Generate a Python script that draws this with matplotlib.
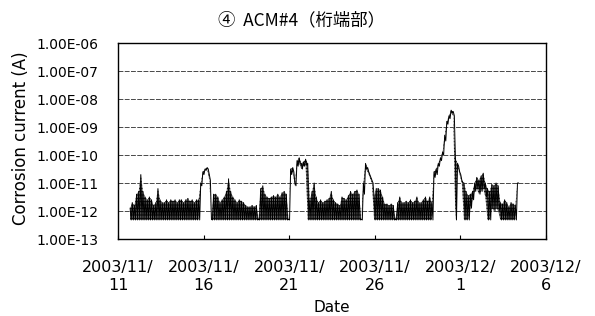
import pandas as pd
import numpy as np
from matplotlib import pyplot as plt
import matplotlib.ticker as mtick

plt.rcParams['font.family'] = ['DejaVu Sans', 'Noto Sans CJK JP']
plt.rcParams['hatch.linewidth'] = 0.7

# log10 of corrosion current, one reading every 3 hours from 2003/11/11 17:00
# "upper" = top of each reading, "lower" = bottom of the fast swing
F = -12.32
upper = [
    -11.9, -11.7, -11.8, -11.4, -11.3, -10.7, -11.3, -11.5,
    -11.6, -11.5, -11.6, -11.8, -11.7, -11.2, -11.6, -11.7,
    -11.7, -11.6, -11.7, -11.6, -11.65, -11.6, -11.7, -11.6,
    -11.6, -11.7, -11.6, -11.55, -11.65, -11.6, -11.7, -11.6,
    -11.6, -11.0, -10.6, -10.5, -10.45, -10.7, -12.3, -11.4,
    -11.4, -11.5, -11.7, -11.6, -11.5, -11.3, -10.85, -11.3,
    -11.5, -11.6, -11.7, -11.6, -11.65, -11.7, -11.8, -11.85,
    -11.85, -11.8, -11.85, -11.8, -12.3, -11.2, -11.1, -11.4,
    -11.5, -11.55, -11.5, -11.45, -11.5, -11.4, -11.5, -11.35,
    -11.3, -11.4, -12.3, -10.5, -10.45, -11.0, -10.2, -10.1,
    -10.3, -10.25, -10.15, -10.3, -11.6, -11.3, -11.0, -11.5,
    -11.7, -11.6, -11.7, -11.65, -11.6, -11.55, -11.3, -11.6,
    -11.7, -11.75, -11.8, -11.5, -11.55, -11.6, -11.45, -11.3,
    -11.4, -11.3, -11.25, -11.4, -12.3, -11.0, -10.3, -10.45,
    -10.7, -10.9, -11.5, -11.2, -11.2, -11.25, -11.5, -11.75,
    -11.75, -11.8, -11.75, -11.8, -12.3, -11.7, -11.5, -11.7,
    -11.7, -11.65, -11.7, -11.6, -11.7, -11.65, -11.5, -11.7,
    -11.7, -11.6, -11.5, -11.65, -11.5, -11.7, -10.6, -10.5,
    -10.3, -10.1, -9.9, -9.3, -8.8, -8.6, -8.4, -8.45,
    -10.1, -10.3, -10.6, -10.9, -11.0, -11.3, -11.45, -11.4,
    -11.3, -11.0, -10.8, -10.9, -10.75, -10.65, -11.0, -11.2,
    -11.3, -11.05, -11.1, -11.0, -11.1, -11.7, -11.75, -11.6,
    -11.7, -11.85, -11.7, -11.75, -11.8, -11.0,
]
lower = [
    F, F, F, F, F, F, F, F,
    F, F, F, F, F, F, F, F,
    F, F, F, F, F, F, F, F,
    F, F, F, F, F, F, F, F,
    F, -11.1, -10.7, -10.55, -10.5, -10.9, F, F,
    F, F, F, F, F, F, F, F,
    F, F, F, F, F, F, F, F,
    F, F, F, F, F, F, F, F,
    F, F, F, F, F, F, F, F,
    F, F, F, -10.7, -10.6, -11.1, -10.4, -10.3,
    -10.5, -10.4, -10.35, F, F, F, F, F,
    F, F, F, F, F, F, F, F,
    F, F, F, F, F, F, F, F,
    F, F, F, F, F, -11.4, -10.5, -10.6,
    -10.8, -11.0, F, F, F, F, F, F,
    F, F, F, F, F, F, F, F,
    F, F, F, F, F, F, F, F,
    F, F, F, F, F, F, -10.8, -10.7,
    -10.4, -10.2, -10.0, -9.5, -8.9, -8.7, -8.5, -8.6,
    F, -10.4, -10.7, -11.0, F, F, F, -11.9,
    -11.6, -11.3, -11.2, -11.4, -11.3, -11.2, -11.5, F,
    F, -11.9, -12.0, -11.9, -12.0, F, F, F,
    F, F, F, F, F, -11.0,
]
start = pd.Timestamp('2003-11-11 17:00')
y_ticks = [1e-13, 1e-12, 1e-11, 1e-10, 1e-9, 1e-8, 1e-7, 1e-6]
x_ticks = pd.date_range('2003-11-11', '2003-12-06', freq='5D')

upper = np.array(upper)
lower = np.array(lower)

# each reading drawn as a swing: top, then bottom half a step later
t_up = pd.date_range(start, periods=len(upper), freq='3h')
t_lo = t_up + pd.Timedelta(hours=1.5)
times = np.empty(2 * len(upper), dtype='datetime64[ns]')
times[0::2] = t_up.values
times[1::2] = t_lo.values
vals = np.empty(2 * len(upper))
vals[0::2] = upper
vals[1::2] = lower

fig = plt.figure(figsize=(5.95, 3.16), dpi=100)
ax = fig.add_axes([118/595, 1-239/316, 428/595, 196/316])

# the fast swings blur into a hatched band between lower and upper
ax.fill_between(t_up, 10**lower, 10**upper,
                facecolor="#7a7a7a", edgecolor="black", hatch="-----", linewidth=0)
ax.plot(times, 10**vals, color="black", linewidth=0.7)

ax.set_yscale('log')
ax.set_ylim(1e-13, 1e-6)
ax.set_yticks(y_ticks)
ax.yaxis.set_minor_locator(mtick.NullLocator())
ax.set_yticklabels([f"{v:.2E}" for v in y_ticks], fontsize=10)
ax.tick_params(axis='y', length=0, pad=14)
ax.yaxis.grid(True, color="black", linestyle=(0, (7, 2)), linewidth=0.5)
ax.set_axisbelow(True)

ax.set_xlim(pd.Timestamp('2003-11-11'), pd.Timestamp('2003-12-06'))
ax.set_xticks(x_ticks)
ax.set_xticklabels([f"{d.year}/{d.month}/\n{d.day}" for d in x_ticks], fontsize=11.5, linespacing=1.3)
ax.xaxis.set_minor_locator(mtick.NullLocator())
ax.tick_params(axis='x', direction='in', length=3, pad=15)

for s in ax.spines.values():
    s.set_linewidth(1.0)
    s.set_color("black")

fig.text(302/595, 1-20/316, "④  ACM#4（桁端部）", ha='center', va='center', fontsize=12.5,
         family=['Noto Sans CJK JP', 'DejaVu Sans'])
fig.text(21/595, 1-138/316, "Corrosion current (A)", ha='center', va='center', rotation=90, fontsize=12)
fig.text(332/595, 1-308/316, "Date", ha='center', va='center', fontsize=11)

plt.savefig("out.png", dpi=100)
